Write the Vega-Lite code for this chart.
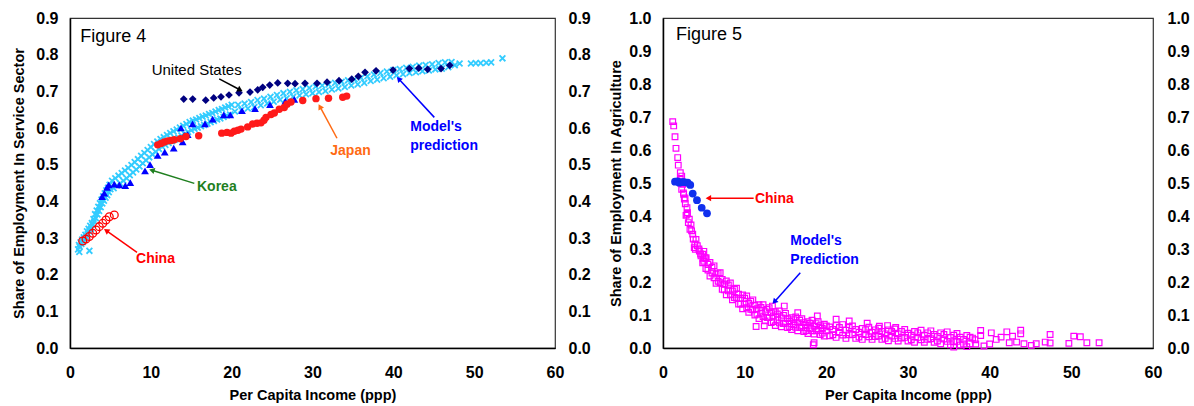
{
"$schema": "https://vega.github.io/schema/vega-lite/v6.json",
"padding": {"left": 11, "top": 9, "right": 0, "bottom": 0},
"spacing": 17,
"config": {
 "font": "Liberation Sans",
 "view": {"stroke": "#333333", "strokeWidth": 1.2},
 "axis": {"grid": false, "ticks": false, "tickSize": 0, "labelFlush": false, "domainColor": "#000000", "domainWidth": 1.5,
  "labelFont": "Liberation Sans", "labelFontSize": 16, "labelFontWeight": "bold", "labelColor": "#000000",
  "titleFont": "Liberation Sans", "titleFontSize": 14.5, "titleFontWeight": "bold", "titleColor": "#000000"}
},
"datasets": {
 "s_model": [
  {"income":1.0,"share":0.269},{"income":1.1,"share":0.281},{"income":1.15,"share":0.262},{"income":1.2,"share":0.276},{"income":1.3,"share":0.288},{"income":1.4,"share":0.284},{"income":1.5,"share":0.296},{"income":1.6,"share":0.289},{"income":1.7,"share":0.302},{"income":1.8,"share":0.297},{"income":1.9,"share":0.309},{"income":2.0,"share":0.304},{"income":2.1,"share":0.318},{"income":2.2,"share":0.311},{"income":2.3,"share":0.325},{"income":2.4,"share":0.318},{"income":2.4,"share":0.265},{"income":2.5,"share":0.333},{"income":2.6,"share":0.325},{"income":2.7,"share":0.341},{"income":2.8,"share":0.336},{"income":2.9,"share":0.352},{"income":3.0,"share":0.345},
  {"income":3.1,"share":0.365},{"income":3.2,"share":0.354},{"income":3.3,"share":0.375},{"income":3.4,"share":0.364},{"income":3.5,"share":0.385},{"income":3.6,"share":0.374},{"income":3.7,"share":0.395},{"income":3.8,"share":0.384},{"income":3.9,"share":0.405},{"income":4.0,"share":0.394},{"income":4.1,"share":0.414},{"income":4.2,"share":0.402},{"income":4.3,"share":0.422},{"income":4.4,"share":0.410},{"income":4.5,"share":0.430},{"income":4.6,"share":0.417},{"income":4.7,"share":0.437},{"income":4.8,"share":0.425},{"income":4.9,"share":0.445},{"income":5.0,"share":0.433},
  {"income":5.2,"share":0.456},{"income":5.4,"share":0.436},{"income":5.6,"share":0.463},{"income":5.8,"share":0.443},{"income":6.0,"share":0.470},{"income":6.2,"share":0.449},{"income":6.4,"share":0.477},{"income":6.6,"share":0.456},{"income":6.8,"share":0.484},{"income":7.0,"share":0.463},{"income":7.2,"share":0.491},{"income":7.4,"share":0.471},{"income":7.6,"share":0.499},{"income":7.8,"share":0.479},{"income":8.0,"share":0.507},{"income":8.2,"share":0.487},{"income":8.4,"share":0.515},{"income":8.6,"share":0.495},{"income":8.8,"share":0.524},{"income":9.0,"share":0.504},{"income":9.2,"share":0.532},{"income":9.4,"share":0.512},{"income":9.6,"share":0.540},{"income":9.8,"share":0.520},{"income":10.0,"share":0.548},{"income":10.2,"share":0.528},{"income":10.4,"share":0.556},{"income":10.6,"share":0.535},{"income":10.8,"share":0.563},{"income":11.0,"share":0.543},{"income":11.2,"share":0.570},{"income":11.4,"share":0.549},{"income":11.6,"share":0.575},{"income":11.8,"share":0.554},{"income":12.0,"share":0.581},{"income":12.2,"share":0.559},{"income":12.4,"share":0.586},{"income":12.6,"share":0.564},{"income":12.8,"share":0.591},{"income":13.0,"share":0.569},{"income":13.2,"share":0.596},{"income":13.4,"share":0.574},{"income":13.6,"share":0.601},{"income":13.8,"share":0.579},{"income":14.0,"share":0.606},{"income":14.2,"share":0.584},{"income":14.4,"share":0.611},{"income":14.6,"share":0.589},{"income":14.8,"share":0.616},{"income":15.0,"share":0.594},{"income":15.2,"share":0.620},{"income":15.4,"share":0.598},{"income":15.6,"share":0.623},{"income":15.8,"share":0.601},{"income":16.0,"share":0.627},{"income":16.2,"share":0.605},{"income":16.4,"share":0.631},{"income":16.6,"share":0.608},{"income":16.8,"share":0.634},{"income":17.0,"share":0.612},{"income":17.2,"share":0.638},{"income":17.4,"share":0.616},{"income":17.6,"share":0.641},{"income":17.8,"share":0.619},{"income":18.0,"share":0.645},{"income":18.2,"share":0.623},{"income":18.4,"share":0.649},{"income":18.6,"share":0.626},{"income":18.8,"share":0.652},{"income":19.0,"share":0.630},{"income":19.2,"share":0.656},{"income":19.4,"share":0.634},{"income":19.6,"share":0.659},{"income":19.8,"share":0.637},{"income":20.0,"share":0.663},
  {"income":20.4,"share":0.645},{"income":20.8,"share":0.663},{"income":21.2,"share":0.649},{"income":21.6,"share":0.667},{"income":22.0,"share":0.653},{"income":22.4,"share":0.671},{"income":22.8,"share":0.657},{"income":23.2,"share":0.676},{"income":23.6,"share":0.662},{"income":24.0,"share":0.680},{"income":24.4,"share":0.667},{"income":24.8,"share":0.685},{"income":25.2,"share":0.672},{"income":25.6,"share":0.690},{"income":26.0,"share":0.677},{"income":26.4,"share":0.695},{"income":26.8,"share":0.681},{"income":27.2,"share":0.699},{"income":27.6,"share":0.685},{"income":28.0,"share":0.703},{"income":28.4,"share":0.689},{"income":28.8,"share":0.706},{"income":29.2,"share":0.692},{"income":29.6,"share":0.709},{"income":30.0,"share":0.695},{"income":30.4,"share":0.713},{"income":30.8,"share":0.698},{"income":31.2,"share":0.716},{"income":31.6,"share":0.701},{"income":32.0,"share":0.719},{"income":32.4,"share":0.705},{"income":32.8,"share":0.723},{"income":33.2,"share":0.708},{"income":33.6,"share":0.726},{"income":34.0,"share":0.712},{"income":34.4,"share":0.730},{"income":34.8,"share":0.716},{"income":35.2,"share":0.733},{"income":35.6,"share":0.719},{"income":36.0,"share":0.737},{"income":36.4,"share":0.723},{"income":36.8,"share":0.741},{"income":37.2,"share":0.728},{"income":37.6,"share":0.746},{"income":38.0,"share":0.732},{"income":38.4,"share":0.750},{"income":38.8,"share":0.736},{"income":39.2,"share":0.754},{"income":39.6,"share":0.740},{"income":40.0,"share":0.758},{"income":40.4,"share":0.744},{"income":40.8,"share":0.761},{"income":41.2,"share":0.747},{"income":41.6,"share":0.764},{"income":42.0,"share":0.750},{"income":42.4,"share":0.767},{"income":42.8,"share":0.752},{"income":43.2,"share":0.770},{"income":43.6,"share":0.755},{"income":44.0,"share":0.772},{"income":44.4,"share":0.757},{"income":44.8,"share":0.774},{"income":45.2,"share":0.760},{"income":45.6,"share":0.777},{"income":46.0,"share":0.762},{"income":46.4,"share":0.779},{"income":46.8,"share":0.766},{"income":47.2,"share":0.780},{"income":47.6,"share":0.771},
  {"income":48.2,"share":0.776},{"income":49.6,"share":0.776},{"income":50.2,"share":0.777},{"income":50.8,"share":0.777},{"income":51.5,"share":0.778},{"income":52.1,"share":0.779},{"income":53.5,"share":0.790}
 ],
 "s_korea": [
  {"income":3.96,"share":0.413},{"income":4.24,"share":0.422},{"income":4.58,"share":0.438},{"income":4.79,"share":0.445},{"income":5.48,"share":0.447},{"income":6.10,"share":0.445},{"income":6.84,"share":0.443},{"income":7.46,"share":0.451},{"income":9.28,"share":0.483},{"income":9.90,"share":0.500},{"income":10.85,"share":0.525},{"income":11.72,"share":0.534},{"income":12.83,"share":0.545},{"income":13.94,"share":0.562},{"income":14.14,"share":0.580},{"income":14.56,"share":0.582},{"income":13.73,"share":0.600},{"income":15.16,"share":0.611},{"income":16.70,"share":0.611},{"income":17.65,"share":0.624},{"income":19.02,"share":0.636},{"income":19.83,"share":0.636},{"income":21.28,"share":0.647},{"income":22.89,"share":0.653},{"income":24.74,"share":0.664},{"income":26.64,"share":0.673},{"income":27.75,"share":0.678}
 ],
 "s_japan": [
  {"income":10.85,"share":0.554},{"income":11.26,"share":0.558},{"income":11.67,"share":0.562},{"income":12.09,"share":0.565},{"income":12.5,"share":0.566},{"income":12.9,"share":0.568},{"income":13.65,"share":0.571},{"income":14.35,"share":0.577},{"income":15.92,"share":0.579},{"income":18.77,"share":0.586},{"income":19.42,"share":0.588},{"income":19.92,"share":0.586},{"income":20.33,"share":0.591},{"income":20.78,"share":0.594},{"income":21.16,"share":0.597},{"income":21.98,"share":0.603},{"income":22.6,"share":0.611},{"income":23.14,"share":0.613},{"income":23.63,"share":0.614},{"income":24.0,"share":0.621},{"income":24.25,"share":0.629},{"income":24.87,"share":0.637},{"income":25.28,"share":0.641},{"income":25.89,"share":0.651},{"income":26.51,"share":0.656},{"income":26.85,"share":0.665},{"income":27.34,"share":0.671},{"income":28.79,"share":0.675},{"income":30.43,"share":0.680},{"income":31.98,"share":0.681},{"income":33.74,"share":0.684},{"income":34.23,"share":0.687}
 ],
 "s_us": [
  {"income":14.07,"share":0.679},{"income":15.18,"share":0.679},{"income":16.79,"share":0.676},{"income":17.78,"share":0.682},{"income":18.68,"share":0.685},{"income":19.67,"share":0.690},{"income":20.91,"share":0.696},{"income":22.27,"share":0.698},{"income":23.22,"share":0.704},{"income":23.84,"share":0.711},{"income":24.71,"share":0.717},{"income":25.70,"share":0.723},{"income":26.93,"share":0.722},{"income":27.84,"share":0.721},{"income":29.07,"share":0.722},{"income":30.56,"share":0.722},{"income":31.80,"share":0.725},{"income":33.28,"share":0.729},{"income":34.85,"share":0.733},{"income":35.67,"share":0.741},{"income":36.50,"share":0.752},{"income":37.86,"share":0.756},{"income":39.96,"share":0.758},{"income":41.98,"share":0.762},{"income":43.14,"share":0.763},{"income":44.25,"share":0.760},{"income":45.90,"share":0.762},{"income":46.98,"share":0.771}
 ],
 "s_china": [
  {"income":1.57,"share":0.292},{"income":1.98,"share":0.297},{"income":2.39,"share":0.304},{"income":2.81,"share":0.313},{"income":3.22,"share":0.322},{"income":3.62,"share":0.331},{"income":4.05,"share":0.340},{"income":4.45,"share":0.349},{"income":4.86,"share":0.358},{"income":5.48,"share":0.363}
 ],
 "notes4_title": [{"income":1.27,"share":0.849,"label":"Figure 4"}],
 "notes4_us": [{"income":10.1,"share":0.757,"label":"United States"}],
 "notes4": [
  {"income":15.71,"share":0.438,"label":"Korea","who":"Korea"},
  {"income":32.2,"share":0.536,"label":"Japan","who":"Japan"},
  {"income":42.1,"share":0.602,"label":"Model's","who":"Model"},
  {"income":42.1,"share":0.551,"label":"prediction","who":"Model"},
  {"income":8.17,"share":0.242,"label":"China","who":"China"}
 ],
 "arrows4": [
  {"who":"United States","x1":18.46,"y1":0.734,"x2":20.95,"y2":0.705},
  {"who":"Korea","x1":15.38,"y1":0.449,"x2":10.23,"y2":0.484},
  {"who":"Japan","x1":33.03,"y1":0.572,"x2":30.97,"y2":0.656},
  {"who":"Model","x1":45.07,"y1":0.629,"x2":40.74,"y2":0.732},
  {"who":"China","x1":8.29,"y1":0.261,"x2":4.58,"y2":0.319}
 ],
 "a_world": [
  {"income":1.19,"share":0.686},{"income":1.31,"share":0.673},{"income":1.47,"share":0.640},{"income":1.59,"share":0.605},{"income":1.80,"share":0.577},{"income":1.87,"share":0.554},{"income":2.12,"share":0.531},{"income":2.29,"share":0.521},{"income":2.12,"share":0.511},{"income":2.2,"share":0.500},{"income":2.41,"share":0.496},{"income":2.29,"share":0.481},{"income":2.5,"share":0.470},{"income":2.53,"share":0.466},{"income":2.61,"share":0.451},{"income":2.7,"share":0.455},{"income":2.73,"share":0.437},{"income":2.94,"share":0.425},{"income":2.82,"share":0.402},{"income":3.0,"share":0.410},{"income":2.94,"share":0.405},{"income":3.1,"share":0.380},{"income":3.22,"share":0.390},{"income":3.3,"share":0.360},{"income":3.43,"share":0.373},{"income":3.5,"share":0.355},{"income":3.64,"share":0.345},{"income":3.7,"share":0.330},{"income":3.9,"share":0.315},{"income":4.04,"share":0.329},{"income":3.83,"share":0.304},{"income":3.96,"share":0.299},{"income":4.2,"share":0.310},{"income":4.4,"share":0.300},{"income":4.45,"share":0.294},{"income":4.6,"share":0.285},{"income":4.65,"share":0.279},{"income":4.86,"share":0.284},{"income":4.9,"share":0.270},{"income":5.06,"share":0.274},{"income":4.86,"share":0.258},{"income":5.27,"share":0.274},
  {"income":5.0,"share":0.293},{"income":5.0,"share":0.263},{"income":5.25,"share":0.271},{"income":5.25,"share":0.241},{"income":5.5,"share":0.254},{"income":5.5,"share":0.236},{"income":5.75,"share":0.259},{"income":5.75,"share":0.218},{"income":6.0,"share":0.245},{"income":6.0,"share":0.227},{"income":6.25,"share":0.249},{"income":6.25,"share":0.213},{"income":6.5,"share":0.224},{"income":6.5,"share":0.196},{"income":6.75,"share":0.227},{"income":6.75,"share":0.202},{"income":7.0,"share":0.228},{"income":7.0,"share":0.198},{"income":7.25,"share":0.208},{"income":7.25,"share":0.178},{"income":7.5,"share":0.194},{"income":7.5,"share":0.176},{"income":7.75,"share":0.203},{"income":7.75,"share":0.161},{"income":8.0,"share":0.191},{"income":8.0,"share":0.173},{"income":8.25,"share":0.197},{"income":8.25,"share":0.161},{"income":8.5,"share":0.173},{"income":8.5,"share":0.146},{"income":8.75,"share":0.178},{"income":8.75,"share":0.153},{"income":9.0,"share":0.181},{"income":9.0,"share":0.151},{"income":9.25,"share":0.163},{"income":9.25,"share":0.133},{"income":9.5,"share":0.151},{"income":9.5,"share":0.133},{"income":9.75,"share":0.161},{"income":9.75,"share":0.119},{"income":10.0,"share":0.151},{"income":10.0,"share":0.133},{"income":10.25,"share":0.158},{"income":10.25,"share":0.122},{"income":10.5,"share":0.136},{"income":10.5,"share":0.108},{"income":10.75,"share":0.142},{"income":10.75,"share":0.117},{"income":11.0,"share":0.146},{"income":11.0,"share":0.116},{"income":11.25,"share":0.130},{"income":11.25,"share":0.100},{"income":11.5,"share":0.119},{"income":11.5,"share":0.102},{"income":11.75,"share":0.131},{"income":11.75,"share":0.089},{"income":12.0,"share":0.123},{"income":12.0,"share":0.105},{"income":12.25,"share":0.131},{"income":12.25,"share":0.095},{"income":12.5,"share":0.110},{"income":12.5,"share":0.082},{"income":12.75,"share":0.117},{"income":12.75,"share":0.092},{"income":13.0,"share":0.122},{"income":13.0,"share":0.092},{"income":13.25,"share":0.107},{"income":13.25,"share":0.077},{"income":13.5,"share":0.097},{"income":13.5,"share":0.080},{"income":13.75,"share":0.110},{"income":13.75,"share":0.068},{"income":14.0,"share":0.103},{"income":14.0,"share":0.085},{"income":14.25,"share":0.112},{"income":14.25,"share":0.076},{"income":14.5,"share":0.091},{"income":14.5,"share":0.064},{"income":14.75,"share":0.099},{"income":14.75,"share":0.074},{"income":15.0,"share":0.105},{"income":15.0,"share":0.075},{"income":15.25,"share":0.089},{"income":15.25,"share":0.062},{"income":15.5,"share":0.081},{"income":15.5,"share":0.065},{"income":15.75,"share":0.092},{"income":15.75,"share":0.056},{"income":16.0,"share":0.086},{"income":16.0,"share":0.071},{"income":16.25,"share":0.094},{"income":16.25,"share":0.063},{"income":16.5,"share":0.076},{"income":16.5,"share":0.052},{"income":16.75,"share":0.084},{"income":16.75,"share":0.062},{"income":17.0,"share":0.089},{"income":17.0,"share":0.062},{"income":17.25,"share":0.077},{"income":17.25,"share":0.050},{"income":17.5,"share":0.069},{"income":17.5,"share":0.053},{"income":17.75,"share":0.080},{"income":17.75,"share":0.044},{"income":18.0,"share":0.075},{"income":18.0,"share":0.060},{"income":18.25,"share":0.084},{"income":18.25,"share":0.052},{"income":18.5,"share":0.066},{"income":18.5,"share":0.042},{"income":18.75,"share":0.074},{"income":18.75,"share":0.052},{"income":19.0,"share":0.080},{"income":19.0,"share":0.053},{"income":19.25,"share":0.068},{"income":19.25,"share":0.041},{"income":19.5,"share":0.060},{"income":19.5,"share":0.045},{"income":19.75,"share":0.072},{"income":19.75,"share":0.036},{"income":20.0,"share":0.067},{"income":20.0,"share":0.052},
  {"income":20.4,"share":0.064},{"income":20.4,"share":0.037},{"income":20.8,"share":0.056},{"income":20.8,"share":0.040},{"income":21.2,"share":0.068},{"income":21.2,"share":0.032},{"income":21.6,"share":0.062},{"income":21.6,"share":0.047},{"income":22.0,"share":0.071},{"income":22.0,"share":0.039},{"income":22.4,"share":0.054},{"income":22.4,"share":0.029},{"income":22.8,"share":0.062},{"income":22.8,"share":0.040},{"income":23.2,"share":0.067},{"income":23.2,"share":0.041},{"income":23.6,"share":0.056},{"income":23.6,"share":0.029},{"income":24.0,"share":0.048},{"income":24.0,"share":0.033},{"income":24.4,"share":0.059},{"income":24.4,"share":0.026},{"income":24.8,"share":0.055},{"income":24.8,"share":0.041},{"income":25.2,"share":0.063},{"income":25.2,"share":0.034},{"income":25.6,"share":0.048},{"income":25.6,"share":0.026},{"income":26.0,"share":0.055},{"income":26.0,"share":0.035},{"income":26.4,"share":0.060},{"income":26.4,"share":0.036},{"income":26.8,"share":0.050},{"income":26.8,"share":0.026},{"income":27.2,"share":0.043},{"income":27.2,"share":0.029},{"income":27.6,"share":0.055},{"income":27.6,"share":0.022},{"income":28.0,"share":0.050},{"income":28.0,"share":0.036},{"income":28.4,"share":0.058},{"income":28.4,"share":0.029},{"income":28.8,"share":0.043},{"income":28.8,"share":0.021},{"income":29.2,"share":0.050},{"income":29.2,"share":0.030},{"income":29.6,"share":0.056},{"income":29.6,"share":0.032},{"income":30.0,"share":0.045},{"income":30.0,"share":0.021},{"income":30.4,"share":0.039},{"income":30.4,"share":0.025},{"income":30.8,"share":0.050},{"income":30.8,"share":0.017},{"income":31.2,"share":0.046},{"income":31.2,"share":0.032},{"income":31.6,"share":0.054},{"income":31.6,"share":0.025},{"income":32.0,"share":0.039},{"income":32.0,"share":0.017},{"income":32.4,"share":0.046},{"income":32.4,"share":0.026},{"income":32.8,"share":0.052},{"income":32.8,"share":0.028},{"income":33.2,"share":0.041},{"income":33.2,"share":0.017},{"income":33.6,"share":0.035},{"income":33.6,"share":0.021},{"income":34.0,"share":0.046},{"income":34.0,"share":0.013},{"income":34.4,"share":0.041},{"income":34.4,"share":0.027},{"income":34.8,"share":0.049},{"income":34.8,"share":0.020},{"income":35.2,"share":0.032},{"income":35.2,"share":0.010},{"income":35.6,"share":0.039},{"income":35.6,"share":0.019},{"income":35.6,"share":0.003},{"income":36.0,"share":0.044},{"income":36.0,"share":0.020},{"income":36.4,"share":0.033},{"income":36.4,"share":0.009},{"income":36.8,"share":0.026},{"income":36.8,"share":0.012},{"income":37.2,"share":0.038},{"income":37.2,"share":0.004},{"income":37.6,"share":0.033},{"income":37.6,"share":0.013},
  {"income":11.4,"share":0.065},{"income":12.4,"share":0.067},{"income":18.5,"share":0.016},{"income":18.4,"share":0.010},{"income":13.4,"share":0.127},{"income":14.85,"share":0.127},{"income":16.5,"share":0.107},{"income":18.9,"share":0.097},{"income":21.2,"share":0.087},{"income":22.8,"share":0.082},{"income":25.0,"share":0.075},{"income":26.5,"share":0.066},{"income":27.5,"share":0.068},{"income":28.5,"share":0.062},
  {"income":37.9,"share":0.030},{"income":38.2,"share":0.025},{"income":38.3,"share":0.012},{"income":38.9,"share":0.053},{"income":38.9,"share":0.038},{"income":39.3,"share":0.006},{"income":40.0,"share":0.012},{"income":40.2,"share":0.046},{"income":40.8,"share":0.026},{"income":41.4,"share":0.033},{"income":42.1,"share":0.049},{"income":42.4,"share":0.016},{"income":42.8,"share":0.036},{"income":43.3,"share":0.018},{"income":43.8,"share":0.054},{"income":43.8,"share":0.043},{"income":44.2,"share":0.013},{"income":45.1,"share":0.008},{"income":45.7,"share":0.013},{"income":46.8,"share":0.018},{"income":47.4,"share":0.041},{"income":47.4,"share":0.015},{"income":49.7,"share":0.014},{"income":50.3,"share":0.036},{"income":51.1,"share":0.034},{"income":51.9,"share":0.016},{"income":53.4,"share":0.016}
 ],
 "a_china": [
  {"income":1.47,"share":0.504},{"income":1.78,"share":0.505},{"income":2.00,"share":0.501},{"income":2.33,"share":0.503},{"income":2.61,"share":0.503},{"income":3.02,"share":0.501},{"income":3.34,"share":0.494},{"income":3.64,"share":0.468},{"income":4.16,"share":0.448},{"income":4.74,"share":0.425},{"income":5.39,"share":0.408}
 ],
 "notes5_title": [{"income":1.59,"share":0.95,"label":"Figure 5"}],
 "notes5": [
  {"income":11.26,"share":0.453,"label":"China","who":"China"},
  {"income":15.59,"share":0.323,"label":"Model's","who":"Model"},
  {"income":15.59,"share":0.267,"label":"Prediction","who":"Model"}
 ],
 "arrows5": [
  {"who":"China","x1":11.1,"y1":0.454,"x2":5.67,"y2":0.454},
  {"who":"Model","x1":16.81,"y1":0.228,"x2":13.71,"y2":0.142}
 ]
},
"hconcat": [
 {
  "width": 485, "height": 330,
  "resolve": {"axis": {"x": "independent", "y": "independent"}},
  "layer": [
   {"data": {"name": "s_model"},
    "mark": {"type": "point", "shape": "M-1,-1L1,1M1,-1L-1,1", "filled": false, "color": "#33ccff", "strokeWidth": 1.8, "size": 34, "opacity": 1},
    "encoding": {
     "x": {"field": "income", "type": "quantitative", "scale": {"domain": [0, 60], "nice": false},
       "axis": {"title": "Per Capita Income (ppp)", "values": [0,10,20,30,40,50,60], "labelPadding": 16, "titlePadding": 8}},
     "y": {"field": "share", "type": "quantitative", "scale": {"domain": [0, 0.9], "nice": false},
       "axis": {"orient": "left", "title": "Share of Employment In Service Sector", "values": [0,0.1,0.2,0.3,0.4,0.5,0.6,0.7,0.8,0.9], "format": ".1f", "labelPadding": 12, "titlePadding": 9}}
    }},
   {"data": {"name": "s_korea"},
    "mark": {"type": "point", "shape": "triangle-up", "filled": true, "color": "#0000ff", "size": 60, "opacity": 1},
    "encoding": {
     "x": {"field": "income", "type": "quantitative", "scale": {"domain": [0, 60], "nice": false}, "axis": null},
     "y": {"field": "share", "type": "quantitative", "scale": {"domain": [0, 0.9], "nice": false}, "axis": null}
    }},
   {"data": {"name": "s_japan"},
    "mark": {"type": "point", "shape": "circle", "filled": true, "color": "#ff1a1a", "size": 55, "opacity": 1},
    "encoding": {
     "x": {"field": "income", "type": "quantitative", "scale": {"domain": [0, 60], "nice": false}, "axis": null},
     "y": {"field": "share", "type": "quantitative", "scale": {"domain": [0, 0.9], "nice": false}, "axis": null}
    }},
   {"data": {"name": "s_us"},
    "mark": {"type": "point", "shape": "diamond", "filled": true, "color": "#000080", "size": 60, "opacity": 1},
    "encoding": {
     "x": {"field": "income", "type": "quantitative", "scale": {"domain": [0, 60], "nice": false}, "axis": null},
     "y": {"field": "share", "type": "quantitative", "scale": {"domain": [0, 0.9], "nice": false},
       "axis": {"orient": "right", "title": null, "domain": false, "values": [0,0.1,0.2,0.3,0.4,0.5,0.6,0.7,0.8,0.9], "format": ".1f", "labelPadding": 13}}
    }},
   {"data": {"name": "s_china"},
    "mark": {"type": "point", "shape": "circle", "filled": false, "color": "#ff0000", "strokeWidth": 1.3, "size": 60, "opacity": 1},
    "encoding": {
     "x": {"field": "income", "type": "quantitative", "scale": {"domain": [0, 60], "nice": false}, "axis": null},
     "y": {"field": "share", "type": "quantitative", "scale": {"domain": [0, 0.9], "nice": false}, "axis": null}
    }},
   {"data": {"name": "arrows4"},
    "mark": {"type": "rule", "strokeWidth": 1.5},
    "encoding": {
     "x": {"field": "x1", "type": "quantitative", "scale": {"domain": [0, 60], "nice": false}, "axis": null},
     "y": {"field": "y1", "type": "quantitative", "scale": {"domain": [0, 0.9], "nice": false}, "axis": null},
     "x2": {"field": "x2"}, "y2": {"field": "y2"},
     "color": {"field": "who", "type": "nominal", "legend": null, "scale": {"domain": ["United States","Korea","Japan","Model","China"], "range": ["#000000","#1f7f1f","#ff6a13","#0000ff","#ff0000"]}}
    }},
   {"data": {"name": "arrows4"}, "transform": [{"filter": "datum.who == 'United States'"}],
    "mark": {"type": "point", "shape": "triangle", "angle": 118, "filled": true, "color": "#000000", "size": 40, "opacity": 1},
    "encoding": {"x": {"field": "x2", "type": "quantitative", "scale": {"domain": [0, 60], "nice": false}, "axis": null}, "y": {"field": "y2", "type": "quantitative", "scale": {"domain": [0, 0.9], "nice": false}, "axis": null}}},
   {"data": {"name": "arrows4"}, "transform": [{"filter": "datum.who == 'Korea'"}],
    "mark": {"type": "point", "shape": "triangle", "angle": 287, "filled": true, "color": "#1f7f1f", "size": 40, "opacity": 1},
    "encoding": {"x": {"field": "x2", "type": "quantitative", "scale": {"domain": [0, 60], "nice": false}, "axis": null}, "y": {"field": "y2", "type": "quantitative", "scale": {"domain": [0, 0.9], "nice": false}, "axis": null}}},
   {"data": {"name": "arrows4"}, "transform": [{"filter": "datum.who == 'Japan'"}],
    "mark": {"type": "point", "shape": "triangle", "angle": 331, "filled": true, "color": "#ff6a13", "size": 40, "opacity": 1},
    "encoding": {"x": {"field": "x2", "type": "quantitative", "scale": {"domain": [0, 60], "nice": false}, "axis": null}, "y": {"field": "y2", "type": "quantitative", "scale": {"domain": [0, 0.9], "nice": false}, "axis": null}}},
   {"data": {"name": "arrows4"}, "transform": [{"filter": "datum.who == 'Model'"}],
    "mark": {"type": "point", "shape": "triangle", "angle": 317, "filled": true, "color": "#0000ff", "size": 40, "opacity": 1},
    "encoding": {"x": {"field": "x2", "type": "quantitative", "scale": {"domain": [0, 60], "nice": false}, "axis": null}, "y": {"field": "y2", "type": "quantitative", "scale": {"domain": [0, 0.9], "nice": false}, "axis": null}}},
   {"data": {"name": "arrows4"}, "transform": [{"filter": "datum.who == 'China'"}],
    "mark": {"type": "point", "shape": "triangle", "angle": 305, "filled": true, "color": "#ff0000", "size": 40, "opacity": 1},
    "encoding": {"x": {"field": "x2", "type": "quantitative", "scale": {"domain": [0, 60], "nice": false}, "axis": null}, "y": {"field": "y2", "type": "quantitative", "scale": {"domain": [0, 0.9], "nice": false}, "axis": null}}},
   {"data": {"name": "notes4_title"},
    "mark": {"type": "text", "align": "left", "baseline": "middle", "fontSize": 18, "font": "Liberation Sans", "color": "#000000"},
    "encoding": {"x": {"field": "income", "type": "quantitative", "scale": {"domain": [0, 60], "nice": false}, "axis": null}, "y": {"field": "share", "type": "quantitative", "scale": {"domain": [0, 0.9], "nice": false}, "axis": null}, "text": {"field": "label"}}},
   {"data": {"name": "notes4_us"},
    "mark": {"type": "text", "align": "left", "baseline": "middle", "fontSize": 15, "font": "Liberation Sans", "color": "#000000"},
    "encoding": {"x": {"field": "income", "type": "quantitative", "scale": {"domain": [0, 60], "nice": false}, "axis": null}, "y": {"field": "share", "type": "quantitative", "scale": {"domain": [0, 0.9], "nice": false}, "axis": null}, "text": {"field": "label"}}},
   {"data": {"name": "notes4"},
    "mark": {"type": "text", "align": "left", "baseline": "middle", "fontSize": 14, "fontWeight": "bold", "font": "Liberation Sans"},
    "encoding": {"x": {"field": "income", "type": "quantitative", "scale": {"domain": [0, 60], "nice": false}, "axis": null}, "y": {"field": "share", "type": "quantitative", "scale": {"domain": [0, 0.9], "nice": false}, "axis": null}, "text": {"field": "label"},
     "color": {"field": "who", "type": "nominal", "legend": null, "scale": {"domain": ["United States","Korea","Japan","Model","China"], "range": ["#000000","#1f7f1f","#ff6a13","#0000dd","#ff0000"]}}}}
  ]
 },
 {
  "width": 490, "height": 330,
  "resolve": {"axis": {"x": "independent", "y": "independent"}},
  "layer": [
   {"data": {"name": "a_world"},
    "mark": {"type": "point", "shape": "square", "filled": false, "color": "#ff00ff", "strokeWidth": 1.2, "size": 32, "opacity": 1},
    "encoding": {
     "x": {"field": "income", "type": "quantitative", "scale": {"domain": [0, 60], "nice": false},
       "axis": {"title": "Per Capita Income (ppp)", "values": [0,10,20,30,40,50,60], "labelPadding": 16, "titlePadding": 8}},
     "y": {"field": "share", "type": "quantitative", "scale": {"domain": [0, 1], "nice": false},
       "axis": {"orient": "left", "title": "Share of Employment In Agriculture", "values": [0,0.1,0.2,0.3,0.4,0.5,0.6,0.7,0.8,0.9,1.0], "format": ".1f", "labelPadding": 12, "titlePadding": 5}}
    }},
   {"data": {"name": "a_china"},
    "mark": {"type": "point", "shape": "circle", "filled": true, "color": "#1030ee", "size": 60, "opacity": 1},
    "encoding": {
     "x": {"field": "income", "type": "quantitative", "scale": {"domain": [0, 60], "nice": false}, "axis": null},
     "y": {"field": "share", "type": "quantitative", "scale": {"domain": [0, 1], "nice": false},
       "axis": {"orient": "right", "title": null, "domain": false, "values": [0,0.1,0.2,0.3,0.4,0.5,0.6,0.7,0.8,0.9,1.0], "format": ".1f", "labelPadding": 14}}
    }},
   {"data": {"name": "arrows5"},
    "mark": {"type": "rule", "strokeWidth": 1.5},
    "encoding": {
     "x": {"field": "x1", "type": "quantitative", "scale": {"domain": [0, 60], "nice": false}, "axis": null},
     "y": {"field": "y1", "type": "quantitative", "scale": {"domain": [0, 1], "nice": false}, "axis": null},
     "x2": {"field": "x2"}, "y2": {"field": "y2"},
     "color": {"field": "who", "type": "nominal", "legend": null, "scale": {"domain": ["China","Model"], "range": ["#ff0000","#0000ff"]}}
    }},
   {"data": {"name": "arrows5"}, "transform": [{"filter": "datum.who == 'China'"}],
    "mark": {"type": "point", "shape": "triangle", "angle": 270, "filled": true, "color": "#ff0000", "size": 40, "opacity": 1},
    "encoding": {"x": {"field": "x2", "type": "quantitative", "scale": {"domain": [0, 60], "nice": false}, "axis": null}, "y": {"field": "y2", "type": "quantitative", "scale": {"domain": [0, 1], "nice": false}, "axis": null}}},
   {"data": {"name": "arrows5"}, "transform": [{"filter": "datum.who == 'Model'"}],
    "mark": {"type": "point", "shape": "triangle", "angle": 222, "filled": true, "color": "#0000ff", "size": 40, "opacity": 1},
    "encoding": {"x": {"field": "x2", "type": "quantitative", "scale": {"domain": [0, 60], "nice": false}, "axis": null}, "y": {"field": "y2", "type": "quantitative", "scale": {"domain": [0, 1], "nice": false}, "axis": null}}},
   {"data": {"name": "notes5_title"},
    "mark": {"type": "text", "align": "left", "baseline": "middle", "fontSize": 18, "font": "Liberation Sans", "color": "#000000"},
    "encoding": {"x": {"field": "income", "type": "quantitative", "scale": {"domain": [0, 60], "nice": false}, "axis": null}, "y": {"field": "share", "type": "quantitative", "scale": {"domain": [0, 1], "nice": false}, "axis": null}, "text": {"field": "label"}}},
   {"data": {"name": "notes5"},
    "mark": {"type": "text", "align": "left", "baseline": "middle", "fontSize": 14, "fontWeight": "bold", "font": "Liberation Sans"},
    "encoding": {"x": {"field": "income", "type": "quantitative", "scale": {"domain": [0, 60], "nice": false}, "axis": null}, "y": {"field": "share", "type": "quantitative", "scale": {"domain": [0, 1], "nice": false}, "axis": null}, "text": {"field": "label"},
     "color": {"field": "who", "type": "nominal", "legend": null, "scale": {"domain": ["China","Model"], "range": ["#ff0000","#0000dd"]}}}}
  ]
 }
]
}
